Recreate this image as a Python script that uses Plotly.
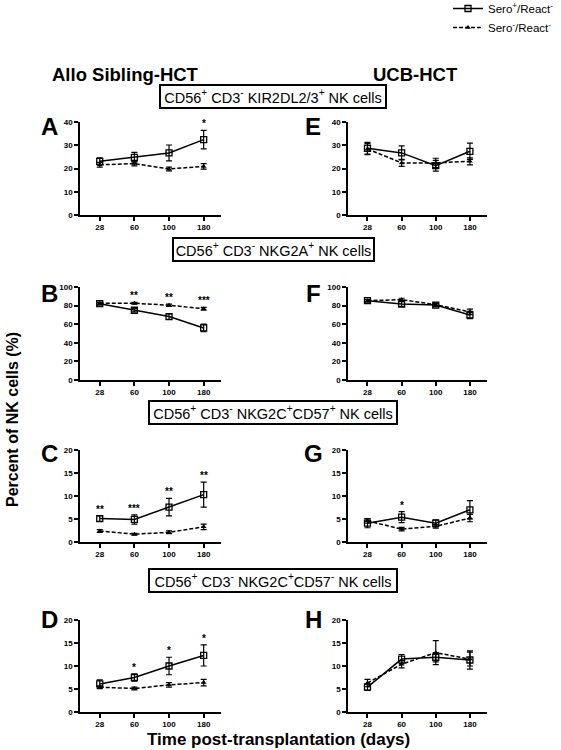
import plotly.graph_objects as go

W, H = 561, 750

days = ["28", "60", "100", "180"]

# ---- data (mean, error) per panel; pos = Sero+/React-, neg = Sero-/React-
A_pos = [23.1, 24.8, 26.7, 32.4]
A_pos_err = [1.5, 2.1, 3.4, 4.0]
A_neg = [21.6, 22.1, 19.8, 20.9]
A_neg_err = [1.0, 1.0, 0.8, 1.2]
A_sig = ["", "", "", "*"]

E_pos = [28.7, 26.7, 21.2, 27.4]
E_pos_err = [2.5, 3.0, 2.3, 3.5]
E_neg = [28.4, 22.4, 22.4, 23.1]
E_neg_err = [2.4, 1.5, 2.0, 1.5]
E_sig = ["", "", "", ""]

B_pos = [82.1, 75.0, 68.2, 56.0]
B_pos_err = [1.5, 1.8, 3.0, 4.0]
B_neg = [82.5, 82.5, 80.4, 76.6]
B_neg_err = [1.0, 1.0, 1.2, 1.5]
B_sig = ["", "**", "**", "***"]

F_pos = [85.3, 81.7, 80.6, 69.9]
F_pos_err = [1.5, 2.5, 2.0, 4.0]
F_neg = [85.3, 86.4, 81.0, 73.2]
F_neg_err = [1.0, 1.5, 1.5, 3.0]
F_sig = ["", "", "", ""]

C_pos = [5.1, 4.9, 7.6, 10.3]
C_pos_err = [0.6, 1.0, 1.9, 2.7]
C_neg = [2.4, 1.7, 2.1, 3.3]
C_neg_err = [0.3, 0.2, 0.3, 0.6]
C_sig = ["**", "***", "**", "**"]

G_pos = [4.1, 5.4, 4.1, 7.0]
G_pos_err = [1.0, 1.2, 0.7, 2.0]
G_neg = [4.6, 2.8, 3.4, 5.2]
G_neg_err = [0.5, 0.4, 0.4, 0.8]
G_sig = ["", "*", "", ""]

D_pos = [6.1, 7.5, 10.0, 12.3]
D_pos_err = [0.9, 0.8, 1.9, 2.3]
D_neg = [5.4, 5.1, 5.9, 6.4]
D_neg_err = [0.3, 0.3, 0.5, 0.7]
D_sig = ["", "*", "*", "*"]

H_pos = [5.4, 11.5, 11.9, 11.3]
H_pos_err = [0.7, 1.0, 1.0, 2.0]
H_neg = [6.3, 10.4, 12.9, 11.5]
H_neg_err = [0.8, 0.8, 2.6, 1.5]
H_sig = ["", "", "", ""]

y_max = [40, 100, 20, 20]
y_dtick = [10, 20, 5, 5]

box_texts = [
    "CD56<sup>+</sup> CD3<sup>-</sup> KIR2DL2/3<sup>+</sup> NK cells",
    "CD56<sup>+</sup> CD3<sup>-</sup> NKG2A<sup>+</sup> NK cells",
    "CD56<sup>+</sup> CD3<sup>-</sup> NKG2C<sup>+</sup>CD57<sup>+</sup> NK cells",
    "CD56<sup>+</sup> CD3<sup>-</sup> NKG2C<sup>+</sup>CD57<sup>-</sup> NK cells",
]
col_titles = ["Allo Sibling-HCT", "UCB-HCT"]
series_names = ["Sero<sup>+</sup>/React<sup>-</sup>", "Sero<sup>-</sup>/React<sup>-</sup>"]

panels = [
    ("A", A_pos, A_pos_err, A_neg, A_neg_err, A_sig, 0, 0),
    ("E", E_pos, E_pos_err, E_neg, E_neg_err, E_sig, 0, 1),
    ("B", B_pos, B_pos_err, B_neg, B_neg_err, B_sig, 1, 0),
    ("F", F_pos, F_pos_err, F_neg, F_neg_err, F_sig, 1, 1),
    ("C", C_pos, C_pos_err, C_neg, C_neg_err, C_sig, 2, 0),
    ("G", G_pos, G_pos_err, G_neg, G_neg_err, G_sig, 2, 1),
    ("D", D_pos, D_pos_err, D_neg, D_neg_err, D_sig, 3, 0),
    ("H", H_pos, H_pos_err, H_neg, H_neg_err, H_sig, 3, 1),
]

# ---- layout geometry (pixels)
col_x = [(80, 221), (348, 487)]
row_y = [(122, 215), (287, 380), (450, 542), (620, 712)]
letter_x = [49, 313]
row_letter_y = [126, 293, 454, 619]
box_geom = [  # center x, center y, width, height
    (273, 97, 228, 25),
    (273, 250, 203, 25),
    (273, 412, 250, 25),
    (273, 580, 250, 25),
]

def px(x):
    return x / W

def py(y):
    return 1 - y / H

FONT = "Arial, Liberation Sans, Helvetica, sans-serif"

fig = go.Figure()
annotations = []
layout_axes = {}

for i, (letter, pos, pos_err, neg, neg_err, sig, r, c) in enumerate(panels):
    n = i + 1
    xa = "x" if n == 1 else f"x{n}"
    ya = "y" if n == 1 else f"y{n}"
    xkey = "xaxis" if n == 1 else f"xaxis{n}"
    ykey = "yaxis" if n == 1 else f"yaxis{n}"
    x0, x1 = col_x[c]
    y0, y1 = row_y[r]
    layout_axes[xkey] = dict(
        domain=[px(x0), px(x1)], anchor=ya, type="category",
        categoryorder="array", categoryarray=days, range=[-0.57, 3.5],
        showline=True, linecolor="black", linewidth=1.6,
        ticks="outside", ticklen=4, tickwidth=1.5, tickcolor="black",
        tickfont=dict(family=FONT, size=8, color="black", weight="bold"),
        showgrid=False, zeroline=False, fixedrange=True, automargin=False,
    )
    layout_axes[ykey] = dict(
        domain=[py(y1), py(y0)], anchor=xa, range=[0, y_max[r]], dtick=y_dtick[r],
        showline=True, linecolor="black", linewidth=1.6,
        ticks="outside", ticklen=4, tickwidth=1.5, tickcolor="black",
        tickfont=dict(family=FONT, size=8, color="black", weight="bold"),
        showgrid=False, zeroline=False, fixedrange=True, automargin=False,
    )
    fig.add_trace(go.Scatter(
        x=days, y=pos, xaxis=xa, yaxis=ya, mode="lines+markers",
        name=series_names[0], legendgroup="pos", showlegend=(n == 1),
        line=dict(color="black", width=1.5),
        marker=dict(symbol="square-open", size=6, color="black", line=dict(width=1.3, color="black")),
        error_y=dict(type="data", array=pos_err, visible=True, color="black", thickness=1.2, width=3),
    ))
    fig.add_trace(go.Scatter(
        x=days, y=neg, xaxis=xa, yaxis=ya, mode="lines+markers",
        name=series_names[1], legendgroup="neg", showlegend=(n == 1),
        line=dict(color="black", width=1.5, dash="4px,2px"),
        marker=dict(symbol="triangle-up", size=5, color="black"),
        error_y=dict(type="data", array=neg_err, visible=True, color="black", thickness=1.2, width=3),
    ))
    # significance marks above the highest error bar (x given as category index)
    for k, s in enumerate(sig):
        if s:
            top = max(pos[k] + pos_err[k], neg[k] + neg_err[k])
            annotations.append(dict(
                x=k, y=top, xref=xa, yref=ya, text=s, showarrow=False,
                xanchor="center", yanchor="bottom", yshift=-1,
                font=dict(family=FONT, size=10, color="black", weight="bold"),
            ))
    # panel letter
    annotations.append(dict(
        x=px(letter_x[c]), y=py(row_letter_y[r]), xref="paper", yref="paper",
        text=letter, showarrow=False, xanchor="center", yanchor="middle",
        font=dict(family=FONT, size=24, color="black", weight="bold"),
    ))

# boxed row titles
for (cx, cy, bw, bh), t in zip(box_geom, box_texts):
    annotations.append(dict(
        x=px(cx), y=py(cy), xref="paper", yref="paper", text=t, showarrow=False,
        xanchor="center", yanchor="middle", width=bw - 8, height=bh - 8,
        bordercolor="black", borderwidth=2, borderpad=2, align="center",
        font=dict(family=FONT, size=14.5, color="black"),
    ))

# column titles
for cxp, t in zip([125, 415], col_titles):
    annotations.append(dict(
        x=px(cxp), y=py(75), xref="paper", yref="paper", text=t, showarrow=False,
        xanchor="center", yanchor="middle",
        font=dict(family=FONT, size=18.5, color="black", weight="bold"),
    ))

# axis titles
annotations.append(dict(
    x=px(12), y=py(420), xref="paper", yref="paper", text="Percent of NK cells (%)",
    showarrow=False, textangle=-90, xanchor="center", yanchor="middle",
    font=dict(family=FONT, size=16, color="black", weight="bold"),
))
annotations.append(dict(
    x=px(278), y=py(739), xref="paper", yref="paper", text="Time post-transplantation (days)",
    showarrow=False, xanchor="center", yanchor="middle",
    font=dict(family=FONT, size=17, color="black", weight="bold"),
))

fig.update_layout(
    width=W, height=H, margin=dict(l=0, r=0, t=0, b=0, autoexpand=False),
    paper_bgcolor="white", plot_bgcolor="white",
    showlegend=True,
    legend=dict(x=px(448), y=1.008, xanchor="left", yanchor="top",
                font=dict(family=FONT, size=11.5, color="black"),
                itemwidth=30, bgcolor="rgba(0,0,0,0)", tracegroupgap=0),
    annotations=annotations,
    **layout_axes,
)

# remove the browser's default 8px page margin so the figure sits at the window origin
fig.write_html("out.html", config={"displayModeBar": False},
               post_script="document.body.style.margin='0';")
